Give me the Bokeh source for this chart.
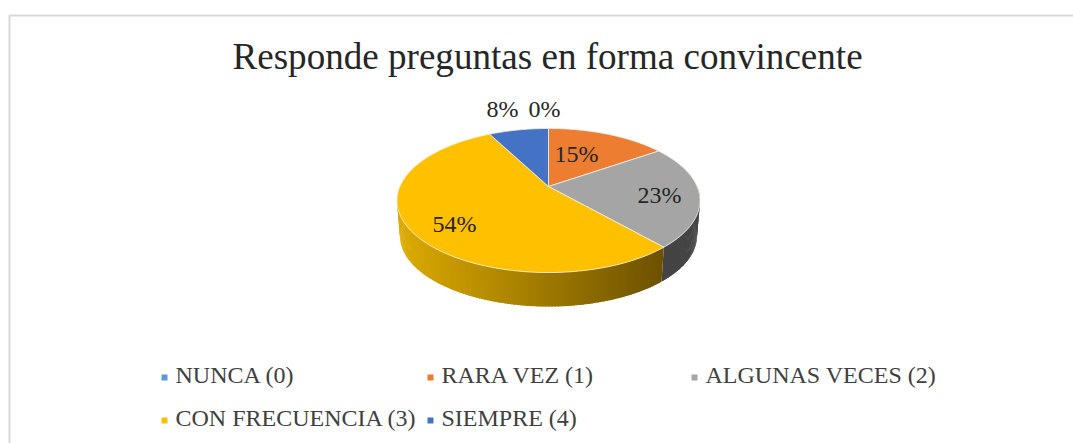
import math
from bokeh.plotting import figure
from bokeh.models import Range1d
from bokeh.core.properties import value
from bokeh.embed import file_html
from bokeh.resources import INLINE

# --- data ---
TITLE = "Responde preguntas en forma convincente"
categories = ["NUNCA (0)", "RARA VEZ (1)", "ALGUNAS VECES (2)", "CON FRECUENCIA (3)", "SIEMPRE (4)"]
counts = [0, 2, 3, 7, 1]
colors = ["#5B9BD5", "#ED7D31", "#A5A5A5", "#FFC000", "#4472C4"]
wall_colors = {2: ("#444444", "#444444"), 3: ("#5C4400", "#DDAB00")}  # right end, left end
label_x = [544, 576, 659, 454, 502]
label_y = [108, 153, 194, 223, 108]
legend_x = [175, 441, 705, 175, 441]
legend_y = [374, 374, 374, 417, 417]

# --- page / projection ---
W, H = 1073, 443
CX, CY = 548.0, 186.0
A, B, K = 148.6, 69.3, 0.1945
WALL_DY, WALL_S = 35.7, 0.98
FONT = value("Liberation Serif")

def project(deg, s=1.0, dy=0.0, r=1.0):
    t = math.radians(deg)
    X, Y = r * math.sin(t), r * math.cos(t)
    w = 1 + K * Y
    return CX + s * A * X / w, CY + dy - s * B * Y / w

def hex_mix(c1, c2, f):
    a = [int(c1[i:i + 2], 16) for i in (1, 3, 5)]
    b = [int(c2[i:i + 2], 16) for i in (1, 3, 5)]
    return "#%02x%02x%02x" % tuple(round(p + (q - p) * f) for p, q in zip(a, b))

p = figure(width=W, height=H, x_range=Range1d(0, W), y_range=Range1d(H, 0),
           output_backend="svg", toolbar_location=None, min_border=0,
           x_axis_location=None, y_axis_location=None, outline_line_color=None,
           background_fill_color="white", border_fill_color="white")
p.grid.visible = False

# chart frame (left and top edges of the pasted chart)
p.line([9, 9, W], [H, 15, 15], line_color="#D9D9D9", line_width=2)

# slice angles
total = sum(counts)
starts, ends, acc = [], [], 0.0
for c in counts:
    starts.append(acc / total * 360)
    acc += c
    ends.append(acc / total * 360)

# side wall: thin strips, painted under the top surface
xmin_wall, xmax_wall = CX - 151.5, CX + 151.5
for i, (a0, a1) in enumerate(zip(starts, ends)):
    if i not in wall_colors or a1 <= a0:
        continue
    lo, hi = max(a0, 90.0), min(a1, 270.0)
    n = max(2, int(hi - lo))
    right, left = wall_colors[i]
    for j in range(n):
        d0 = lo + (hi - lo) * j / n
        d1 = lo + (hi - lo) * min(j + 1.6, n) / n
        pts = [project(d0), project(d1), project(d1, WALL_S, WALL_DY), project(d0, WALL_S, WALL_DY)]
        xm = sum(q[0] for q in pts) / 4
        col = hex_mix(right, left, (xmax_wall - xm) / (xmax_wall - xmin_wall))
        p.patch([q[0] for q in pts], [q[1] for q in pts], fill_color=col, line_color=None)

# top surface
for i, (a0, a1) in enumerate(zip(starts, ends)):
    if a1 <= a0:
        continue
    n = max(8, int(a1 - a0))
    pts = [(CX, CY)] + [project(a0 + (a1 - a0) * j / n) for j in range(n + 1)]
    p.patch([q[0] for q in pts], [q[1] for q in pts], fill_color=colors[i],
            line_color="#F4F1E8", line_width=0.8)

# data labels
labels = ["%d%%" % round(100 * c / total) for c in counts]
p.text(label_x, label_y, text=labels, text_font=FONT, text_font_size="24px",
       text_color="#262626", text_align="center", text_baseline="middle")

# title
p.text([232], [56], text=[TITLE], text_font=FONT, text_font_size="37.1px",
       text_color="#262626", text_align="left", text_baseline="middle")

# legend
p.scatter([x - 11 for x in legend_x], [y + 3 for y in legend_y], marker="square", size=6,
          fill_color=colors, line_color=None)
p.text(legend_x, legend_y, text=categories, text_font=FONT, text_font_size="24px",
       text_color="#404040", text_align="left", text_baseline="middle")

open("out.html", "w").write(file_html(p, INLINE))
